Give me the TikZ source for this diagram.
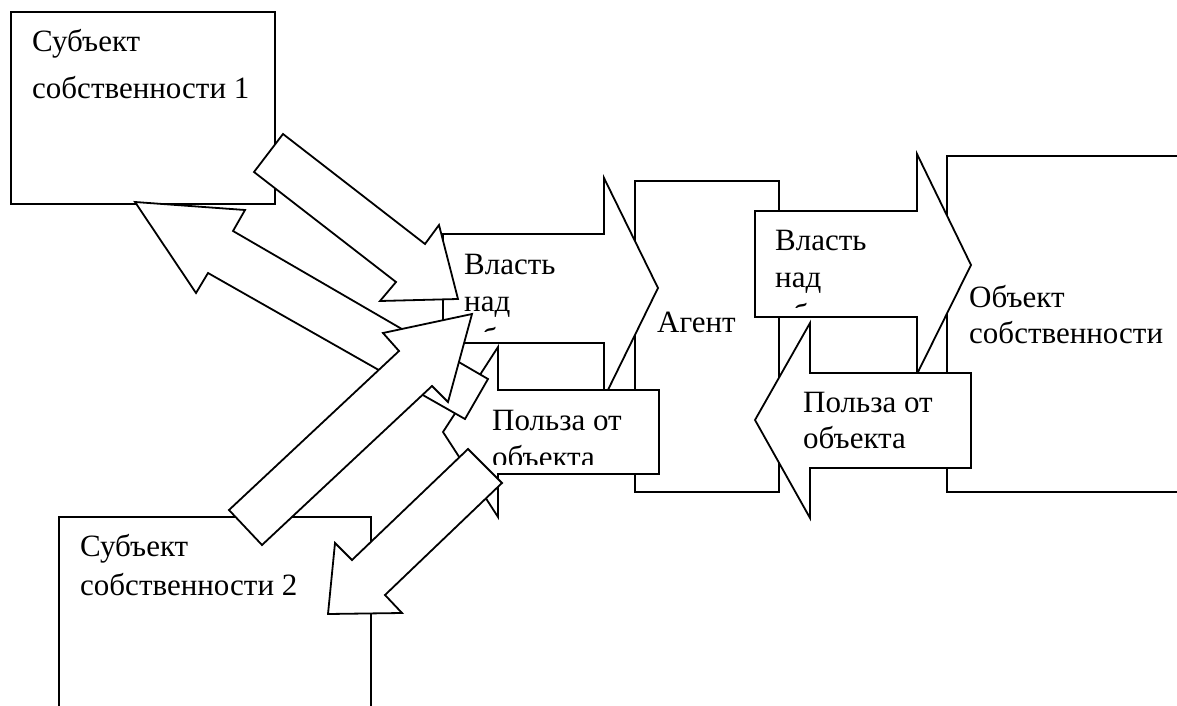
\documentclass[tikz,border=0pt]{standalone}
\usepackage{fontspec}
\setmainfont{Liberation Serif}
\newfontfamily\tnrfont{Liberation Serif}
\begin{document}
\begin{tikzpicture}[x=1pt,y=-1pt,
  shp/.style={draw=black, fill=white, line width=1.8pt, line join=miter},
  txt/.style={anchor=base west, inner sep=0pt, font=\tnrfont\fontsize{31}{37}\selectfont}]
\useasboundingbox (0,0) rectangle (1177,706);
% Subject 1
\draw[shp] (11,12) rectangle (275,204);
\node[txt] (s1a) at (32,52) {Субъект};
\node[txt] (s1b) at (32,99) {собственности 1};
% Subject 2
\draw[shp] (59,517) rectangle (371,730);
\node[txt] (s2a) at (80,556) {Субъект};
\node[txt] (s2b) at (80,595) {собственности 2};
% Agent
\draw[shp] (635,181) rectangle (779,492);
\node[txt] (ag) at (657,332) {Агент};
% Object
\draw[shp] (947,156) rectangle (1195,492);
\node[txt] (ob1) at (969,307) {Объект};
\node[txt] (ob2) at (969,343) {собственности};
% Power arrow left
\draw[shp] (443,234) -- (604,234) -- (604,178) -- (658,288) -- (604,398) -- (604,343) -- (443,343) -- cycle;
\node[txt] (pl1) at (464,274) {Власть};
\node[txt] (pl2) at (464,311) {над};
\begin{scope}
  \clip (476,320) rectangle (500,331);
  \node[txt] (pl3) at (466,349) {объектом};
\end{scope}
% Power arrow right
\draw[shp] (755,211) -- (917,211) -- (917,154) -- (971,265) -- (917,374) -- (917,317) -- (755,317) -- cycle;
\node[txt] (pr1) at (775,250) {Власть};
\node[txt] (pr2) at (775,287) {над};
\begin{scope}
  \clip (787,296) rectangle (812,307);
  \node[txt] (pr3) at (777,325) {объектом};
\end{scope}
% Benefit arrow left
\draw[shp] (659,390) -- (498,390) -- (498,347) -- (443,432) -- (498,517) -- (498,474) -- (659,474) -- cycle;
\node[txt] (bl1) at (492,430) {Польза от};
\begin{scope}
  \clip (480,440) rectangle (655,464);
  \node[txt] (bl2) at (492,467) {объекта};
\end{scope}
% Benefit arrow right
\draw[shp] (971,373) -- (810,373) -- (810,323) -- (755,420) -- (810,518) -- (810,468) -- (971,468) -- cycle;
\node[txt] (br1) at (803,412) {Польза от};
\node[txt] (br2) at (803,448) {объекта};
% Diagonal arrow A (Subject 1 -> power)
\draw[shp] (283,134) -- (425,244) -- (439,225) -- (458,299) -- (380,301) -- (396,282) -- (254,172) -- cycle;
% Diagonal arrow B (-> Subject 1)
\draw[shp] (135,202) -- (245,210) -- (233,231) -- (488,379) -- (465,419) -- (208,273) -- (196,293) -- cycle;
% Diagonal arrow C (Subject 2 -> power)
\draw[shp] (472,314) -- (383,333) -- (399,351) -- (229,510) -- (262,545) -- (432,386) -- (448,402) -- cycle;
% Diagonal arrow D (-> Subject 2)
\draw[shp] (468,449) -- (352,560) -- (335,543) -- (328,614) -- (402,613) -- (385,595) -- (502,483) -- cycle;
\end{tikzpicture}
\end{document}
